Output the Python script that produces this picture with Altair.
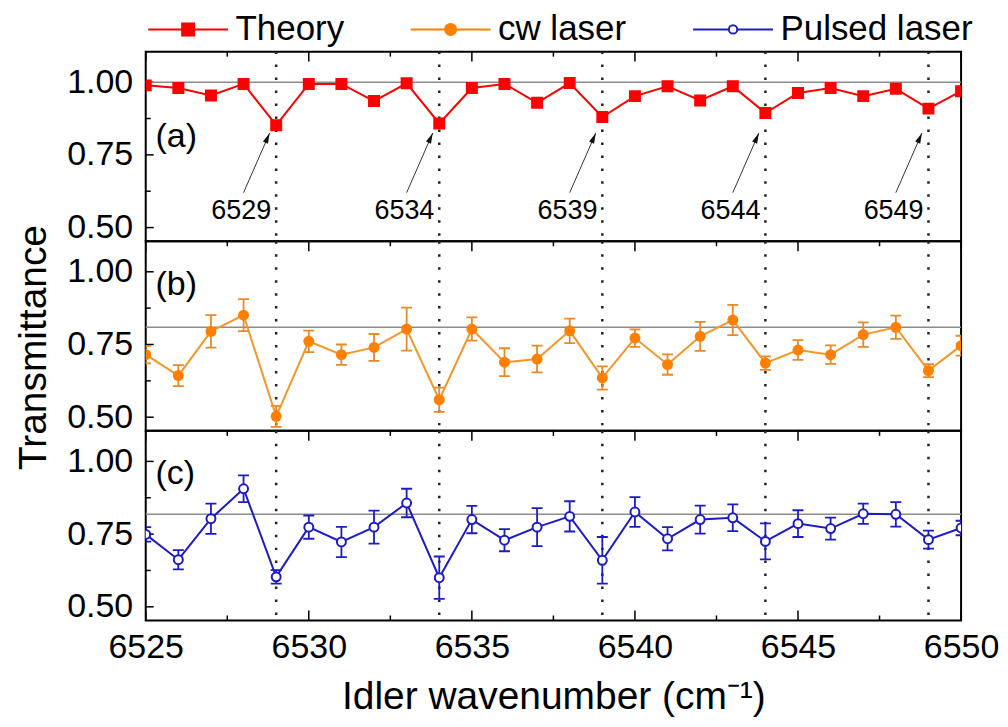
import altair as alt
import pandas as pd

FONT = "Liberation Sans"

# ---------------- data ----------------
wavenumber = [6525, 6526, 6527, 6528, 6529, 6530, 6531, 6532, 6533, 6534, 6535, 6536, 6537,
              6538, 6539, 6540, 6541, 6542, 6543, 6544, 6545, 6546, 6547, 6548, 6549, 6550]
theory = [0.989, 0.980, 0.954, 0.994, 0.852, 0.994, 0.994, 0.935, 0.996, 0.858, 0.980, 0.994, 0.929,
          0.997, 0.880, 0.952, 0.986, 0.937, 0.986, 0.894, 0.963, 0.980, 0.952, 0.977, 0.909, 0.969]
cw = [0.715, 0.643, 0.795, 0.851, 0.503, 0.761, 0.715, 0.740, 0.803, 0.560, 0.803, 0.689, 0.700,
      0.797, 0.635, 0.772, 0.681, 0.778, 0.834, 0.686, 0.731, 0.715, 0.784, 0.809, 0.660, 0.746]
cw_err = [0.030, 0.036, 0.056, 0.055, 0.036, 0.037, 0.035, 0.046, 0.074, 0.042, 0.040, 0.048, 0.046,
          0.042, 0.040, 0.030, 0.035, 0.050, 0.052, 0.023, 0.034, 0.032, 0.042, 0.040, 0.022, 0.034]
pulsed = [0.749, 0.662, 0.803, 0.906, 0.603, 0.774, 0.723, 0.774, 0.857, 0.600, 0.800, 0.729, 0.774,
          0.811, 0.660, 0.826, 0.734, 0.800, 0.806, 0.725, 0.786, 0.769, 0.820, 0.818, 0.731, 0.771]
pulsed_err = [0.025, 0.033, 0.052, 0.046, 0.023, 0.040, 0.052, 0.057, 0.049, 0.073, 0.047, 0.038, 0.065,
              0.052, 0.080, 0.051, 0.040, 0.048, 0.046, 0.062, 0.046, 0.038, 0.035, 0.042, 0.031, 0.025]

ref_levels = [1.0, 0.809, 0.818]
dips = [6529, 6534, 6539, 6544, 6549]
dip_labels = ["6529", "6534", "6539", "6544", "6549"]
arrow_x0 = [6528.0, 6533.0, 6538.0, 6543.0, 6548.0]
arrow_x1 = [6528.8, 6533.8, 6538.8, 6543.8, 6548.8]
arrow_y0 = [0.62, 0.62, 0.62, 0.62, 0.62]
arrow_y1 = [0.825, 0.825, 0.825, 0.825, 0.825]
label_x = [6528.85, 6533.85, 6538.85, 6543.85, 6548.85]
label_y = [0.558, 0.558, 0.558, 0.558, 0.558]

panel_tags = ["(a)", "(b)", "(c)"]
tag_x = [6525.3, 6525.3, 6525.3]
tag_y = [0.813, 0.956, 0.956]

x_major = [6525, 6530, 6535, 6540, 6545, 6550]
x_minor = [6527.5, 6532.5, 6537.5, 6542.5, 6547.5]
y_major = [0.50, 0.75, 1.00]
y_minor = [0.625, 0.875]

series_names = ["Theory", "cw laser", "Pulsed laser"]
series_colors = ["#ff0000", "#ff8000", "#1c1cc4"]
series_fills = ["#ff0000", "#ff8000", "#ffffff"]
legend_shapes = [
    "M-4,0H-0.6M0.6,0H4M-0.6,-0.6H0.6V0.6H-0.6Z",
    "M-4,0H-0.55M0.55,0H4M-0.55,0A0.55,0.55 0 1,1 0.55,0A0.55,0.55 0 1,1 -0.55,0Z",
    "M-4,0H-0.42M0.42,0H4M-0.42,0A0.42,0.42 0 1,1 0.42,0A0.42,0.42 0 1,1 -0.42,0Z",
]

# ---------------- layout ----------------
W, H = 817, 190
xs = alt.Scale(domain=[6525, 6550], nice=False, zero=False)
ys = alt.Scale(domain=[0.453, 1.105], nice=False, zero=False)


def y_axis(title):
    kw = dict(values=y_major, format=".2f", ticks=False, domain=False, grid=False,
              labelFont=FONT, labelFontSize=34, labelColor="black", labelPadding=13,
              labelFlush=False)
    if title:
        kw.update(title=title, titleFont=FONT, titleFontSize=39, titleFontWeight="normal",
                  titleColor="black", titlePadding=13, titleY=106)
    else:
        kw.update(title=None)
    return alt.Axis(**kw)


x_axis_bottom = alt.Axis(values=x_major, format="d", ticks=False, domain=False, grid=False,
                         labelFont=FONT, labelFontSize=34, labelColor="black", labelPadding=10,
                         labelFlush=False, labelOverlap=False,
                         title="Idler wavenumber (cm⁻¹)", titleFont=FONT, titleFontSize=39,
                         titleFontWeight="normal", titleColor="black", titlePadding=13)


def make_panel(idx, yvals, errs, color, point_kw, bottom=False):
    xax = x_axis_bottom if bottom else None
    yax = y_axis("Transmittance" if idx == 1 else None)
    X = lambda f: alt.X(f, type="quantitative", scale=xs, axis=xax)
    Y = lambda f: alt.Y(f, type="quantitative", scale=ys, axis=yax)

    df = pd.DataFrame({"x": wavenumber, "y": yvals})
    layers = []

    # inward ticks
    tx_major = pd.DataFrame({"x": x_major})
    tx_minor = pd.DataFrame({"x": x_minor})
    layers.append(alt.Chart(tx_major).mark_rule(color="black", strokeWidth=1.5).encode(
        x=X("x"), y=alt.value(0), y2=alt.value(10)))
    layers.append(alt.Chart(tx_minor).mark_rule(color="black", strokeWidth=1.5).encode(
        x=X("x"), y=alt.value(0), y2=alt.value(5)))
    if bottom:
        layers.append(alt.Chart(tx_major).mark_rule(color="black", strokeWidth=1.5).encode(
            x=X("x"), y=alt.value(H), y2=alt.value(H - 10)))
        layers.append(alt.Chart(tx_minor).mark_rule(color="black", strokeWidth=1.5).encode(
            x=X("x"), y=alt.value(H), y2=alt.value(H - 5)))
    layers.append(alt.Chart(pd.DataFrame({"y": y_major})).mark_rule(color="black", strokeWidth=1.5).encode(
        y=Y("y"), x=alt.value(0), x2=alt.value(8)))
    layers.append(alt.Chart(pd.DataFrame({"y": y_minor})).mark_rule(color="black", strokeWidth=1.5).encode(
        y=Y("y"), x=alt.value(0), x2=alt.value(5)))

    # reference level and dotted verticals
    layers.append(alt.Chart(pd.DataFrame({"y": [ref_levels[idx]]})).mark_rule(
        color="#8c8c8c", strokeWidth=1.5).encode(y=Y("y")))
    layers.append(alt.Chart(pd.DataFrame({"x": dips})).mark_rule(
        color="#222222", strokeWidth=2.5, strokeDash=[2.5, 10.5]).encode(x=X("x")))

    # error bars
    if errs is not None:
        edf = pd.DataFrame({"x": wavenumber,
                            "lo": [v - e for v, e in zip(yvals, errs)],
                            "hi": [v + e for v, e in zip(yvals, errs)]})
        ecol = point_kw.get("errcolor", color)
        layers.append(alt.Chart(edf).mark_rule(color=ecol, strokeWidth=1.8, clip=True).encode(
            x=X("x"), y=Y("lo"), y2=alt.Y2("hi")))
        for f in ["lo", "hi"]:
            layers.append(alt.Chart(edf).mark_tick(orient="horizontal", color=ecol, size=11,
                                                   thickness=1.8, clip=True, opacity=1).encode(
                x=X("x"), y=Y(f)))

    # line + points
    layers.append(alt.Chart(df).mark_line(color=color, strokeWidth=2, clip=True).encode(
        x=X("x"), y=Y("y")))
    pk = {k: v for k, v in point_kw.items() if k != "errcolor"}
    layers.append(alt.Chart(df).mark_point(clip=True, opacity=1, **pk).encode(
        x=X("x"), y=Y("y")))

    # panel tag
    layers.append(alt.Chart(pd.DataFrame({"x": [tag_x[idx]], "y": [tag_y[idx]], "t": [panel_tags[idx]]}))
                  .mark_text(align="left", baseline="middle", font=FONT, fontSize=34, color="black")
                  .encode(x=X("x"), y=Y("y"), text="t:N"))

    if idx == 0:
        adf = pd.DataFrame({"x0": arrow_x0, "x1": arrow_x1, "y0": arrow_y0, "y1": arrow_y1,
                            "lx": label_x, "ly": label_y, "t": dip_labels})
        layers.append(alt.Chart(adf).mark_rule(color="#333333", strokeWidth=1).encode(
            x=X("x0"), x2=alt.X2("x1"), y=Y("y0"), y2=alt.Y2("y1")))
        layers.append(alt.Chart(adf).mark_point(shape="M0,0L-0.45,1.7L0.45,1.7Z", filled=True,
                                                color="#111111", size=150, angle=24, opacity=1).encode(
            x=X("x1"), y=Y("y1")))
        layers.append(alt.Chart(adf).mark_text(align="right", baseline="middle", font=FONT,
                                               fontSize=27, color="black").encode(
            x=X("lx"), y=Y("ly"), text="t:N"))
        # legend carrier (no rows drawn)
        ldf = pd.DataFrame({"series": series_names, "x": [6530] * 3, "y": [0.8] * 3})
        leg = alt.Legend(title=None, orient="none", direction="horizontal", legendX=25, legendY=-40,
                         labelFont=FONT, labelFontSize=35, labelColor="black", labelLimit=400,
                         symbolSize=400, symbolStrokeWidth=2, labelOffset=30, columnPadding=62,
                         symbolOpacity=1)
        layers.append(alt.Chart(ldf).transform_filter("false").mark_point(filled=True, size=400).encode(
            x=X("x"), y=Y("y"),
            shape=alt.Shape("series:N", scale=alt.Scale(domain=series_names, range=legend_shapes), legend=leg),
            fill=alt.Fill("series:N", scale=alt.Scale(domain=series_names, range=series_fills), legend=leg),
            stroke=alt.Stroke("series:N", scale=alt.Scale(domain=series_names, range=series_colors), legend=leg),
        ))

    return alt.layer(*layers).properties(width=W, height=H)


pa = make_panel(0, theory, None, series_colors[0],
                dict(shape="square", filled=True, color=series_colors[0], size=144))
pb = make_panel(1, cw, cw_err, "#f5962a",
                dict(shape="circle", filled=True, color=series_colors[1], size=121, errcolor="#e8892a"))
pc = make_panel(2, pulsed, pulsed_err, series_colors[2],
                dict(shape="circle", filled=True, fill="white", stroke=series_colors[2],
                     strokeWidth=2, size=80), bottom=True)

chart = alt.vconcat(pa, pb, pc, spacing=0, bounds="flush").properties(
    padding={"left": 5, "top": 3, "right": 0, "bottom": 0}
).configure_view(stroke="black", strokeWidth=2).configure_legend(symbolOpacity=1)

chart.save("out.html", embed_options={"renderer": "svg", "actions": False})
